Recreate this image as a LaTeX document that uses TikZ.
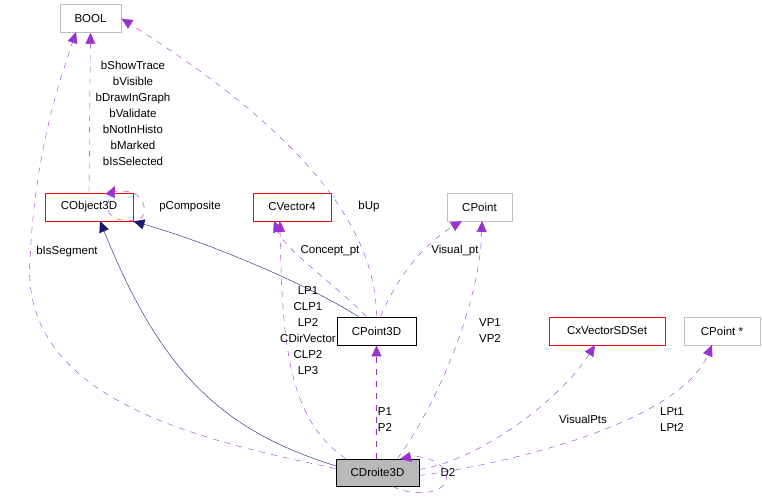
\documentclass[tikz,border=0pt]{standalone}
\usepackage{fontspec}
\setmainfont{Liberation Sans}
\usetikzlibrary{arrows.meta}
\definecolor{usec}{HTML}{9A32CD}
\definecolor{inhc}{HTML}{191970}
\definecolor{grayb}{HTML}{BFBFBF}
\begin{document}
\begin{tikzpicture}[x=1pt,y=-1pt,font=\fontsize{11.5}{13}\selectfont,
  cls/.style={line width=0.8pt,fill=white,minimum height=28pt,inner sep=0pt,anchor=center},
  redbox/.style={cls,draw={rgb,255:red,255;green,0;blue,0}},
  graybox/.style={cls,draw=grayb},
  blackbox/.style={cls,draw=black},
  use/.style={draw=usec,dashed,dash pattern=on 6pt off 6pt,-{Triangle[length=11pt,width=10pt,fill=usec]}},
  inh/.style={draw=inhc,-{Triangle[length=11pt,width=10pt,fill=inhc]}},
  lbl/.style={align=center,inner sep=0pt,font=\fontsize{11.5}{16}\selectfont}]
\useasboundingbox (0,0) rectangle (762,502);
\node[graybox,minimum width=61pt] (bool) at (90.5,18.5) {BOOL};
\node[redbox,minimum width=88pt] (cobj) at (89,207) {CObject3D};
\node[redbox,minimum width=78pt] (cvec) at (292,207) {CVector4};
\node[graybox,minimum width=65pt] (cpt) at (479.5,207) {CPoint};
\node[blackbox,minimum width=79pt] (cp3) at (376.5,331) {CPoint3D};
\node[redbox,minimum width=116pt] (cxv) at (607,331) {CxVectorSDSet};
\node[graybox,minimum width=76pt] (cps) at (722,331) {CPoint *};
\node[blackbox,fill=gray!55,minimum width=83pt,minimum height=27pt] (cd) at (377.5,472.5) {CDroite3D};

\coordinate (cdl) at (336,466);
% inheritance
\draw[inh] (cp3.north west) ++(22,0) .. controls (300,280) and (200,240) .. (cobj.south east);
\draw[inh] (cdl) .. controls (220,430) and (160,370) .. (100,221);
% usage
\draw[use] (cobj.north) -- (bool.south);
\draw[use] (cobj.north) ++(22,0) .. controls (150,183) and (150,222) .. (135,220) .. controls (120,222) and (100,218) .. (115,186);
\draw[use] (cd.west) ++(0,-4) .. controls (200,440) and (20,400) .. (30,260) .. controls (35,150) and (60,80) .. (76,32);
\draw[use] (cp3.north) .. controls (376,200) and (250,100) .. (bool.east);
\draw[use] (cp3.north) ++(-10,0) .. controls (330,280) and (285,250) .. (274,221);
\draw[use] (cp3.north) ++(4,0) .. controls (400,270) and (430,240) .. (462,221);
\draw[use] (cd.north west) ++(10,0) .. controls (290,420) and (282,350) .. (280,221);
\draw[use] (cd.north) ++(20,0) .. controls (440,400) and (480,300) .. (482,221);
\draw[use] (cd.north) ++(-1,0) -- (cp3.south);
\draw[use] (cd.east) ++(0,-3) .. controls (480,460) and (560,400) .. (595,345);
\draw[use] (cd.east) ++(0,3) .. controls (520,462) and (680,420) .. (712,345);
\draw[use] (cd.south) ++(15,0) .. controls (420,500) and (455,490) .. (445,472) .. controls (440,460) and (420,455) .. (400,459);
% labels
\node[lbl] (l1) at (133,113) {bShowTrace\\bVisible\\bDrawInGraph\\bValidate\\bNotInHisto\\bMarked\\bIsSelected};
\node[lbl] (l2) at (190,207) {pComposite};
\node[lbl] (l3) at (67,252) {bIsSegment};
\node[lbl] (l4) at (369,207) {bUp};
\node[lbl] (l5) at (330,251) {Concept\_pt};
\node[lbl] (l6) at (455,251) {Visual\_pt};
\node[lbl] (l7) at (308,331) {LP1\\CLP1\\LP2\\CDirVector\\CLP2\\LP3};
\node[lbl] (l8) at (490,331) {VP1\\VP2};
\node[lbl] (l9) at (385,419.5) {P1\\P2};
\node[lbl] (l10) at (583,419) {VisualPts};
\node[lbl] (l11) at (672,419.5) {LPt1\\LPt2};
\node[lbl] (l12) at (448,472) {D2};
\end{tikzpicture}
\end{document}
